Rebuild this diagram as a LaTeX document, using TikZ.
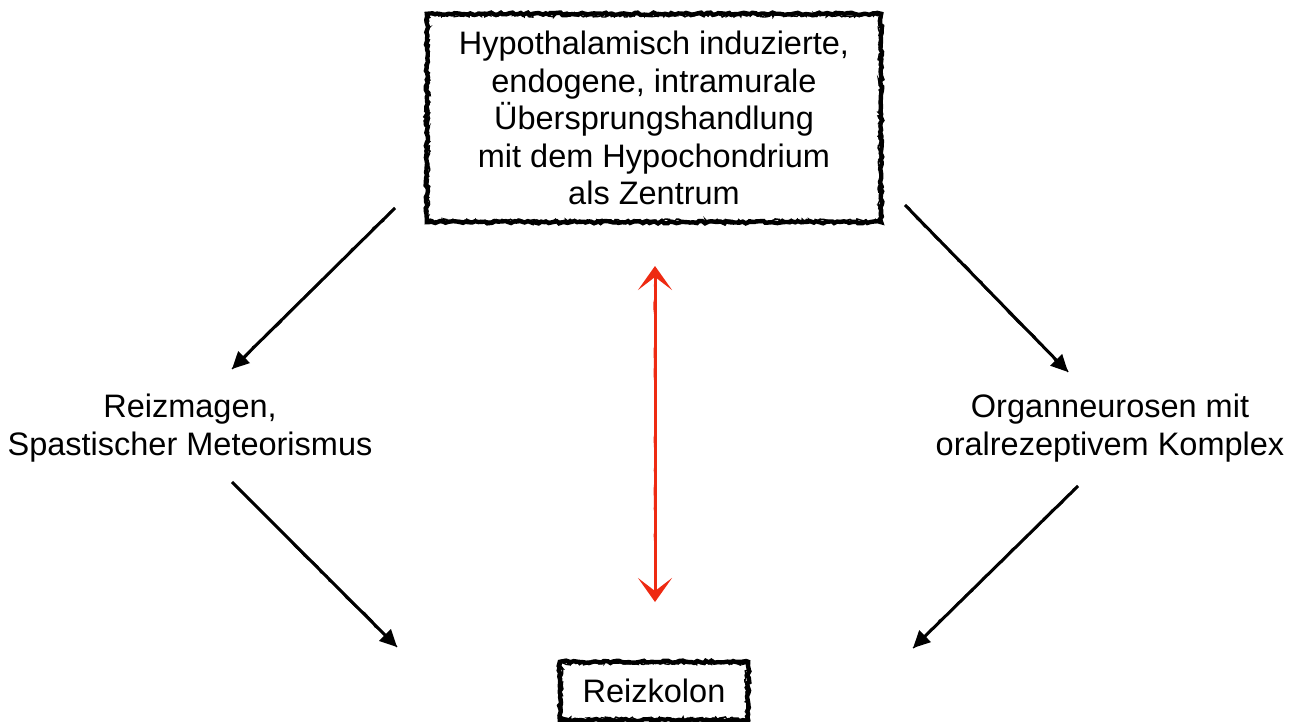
\documentclass[tikz,border=0pt]{standalone}
\usepackage{fontspec}
\setmainfont{Liberation Sans}
\usetikzlibrary{arrows.meta,decorations.pathmorphing}
\definecolor{sketchred}{RGB}{238,42,18}
\begin{document}
\begin{tikzpicture}[x=1pt,y=-1pt,
  lbl/.style={font=\fontsize{32.5}{37.5}\selectfont, align=center, inner sep=0pt},
  roughbox/.style={draw, line width=4.4pt, decorate, decoration={random steps,segment length=3pt,amplitude=1.2pt}},
  roughthin/.style={draw, line width=1.4pt, decorate, decoration={random steps,segment length=2pt,amplitude=1.8pt}},
  blackarrow/.style={line width=3pt, -{Triangle[length=17pt,width=16pt]}},
  sketchline/.style={line width=1.2pt, decorate, decoration={random steps,segment length=6pt,amplitude=1.4pt}},
  redarrow/.style={sketchred, line width=3pt, {Stealth[length=24pt,width=34pt,inset=13pt]}-{Stealth[length=24pt,width=34pt,inset=13pt]}},
  redsketch/.style={sketchred, line width=1.2pt, decorate, decoration={random steps,segment length=8pt,amplitude=1pt}}
]
\pgfmathsetseed{7}
\useasboundingbox (0,0) rectangle (1300,722);
\fill[white] (0,0) rectangle (1300,722);

% nodes
\node[lbl, minimum width=454pt, minimum height=208pt] (top) at (654,118)
  {Hypothalamisch induzierte,\\endogene, intramurale\\Übersprungshandlung\\mit dem Hypochondrium\\als Zentrum};
\node[lbl, minimum width=188pt, minimum height=58pt] (bot) at (654,691) {Reizkolon};
\node[lbl] (left) at (190,428) {Reizmagen,\\Spastischer Meteorismus};
\node[lbl] (right) at (1110,428) {Organneurosen mit\\oralrezeptivem Komplex};

% rough box borders
\draw[roughbox] (top.north west) rectangle (top.south east);
\draw[roughthin] ([shift={(1.5pt,-1.5pt)}]top.north west) rectangle ([shift={(-1.5pt,1.5pt)}]top.south east);
\draw[roughbox] (bot.north west) rectangle (bot.south east);
\draw[roughthin] ([shift={(1.5pt,-1.5pt)}]bot.north west) rectangle ([shift={(-1.5pt,1.5pt)}]bot.south east);

% arrow endpoints
\coordinate (a1s) at (395,208);  \coordinate (a1e) at (232,369);
\coordinate (a2s) at (905,205);  \coordinate (a2e) at (1068,372);
\coordinate (a3s) at (232,482);  \coordinate (a3e) at (397,647);
\coordinate (a4s) at (1078,486); \coordinate (a4e) at (913,648);
\coordinate (rs) at (655,266);   \coordinate (re) at (655,602);

% black arrows
\foreach \s/\e in {a1s/a1e, a2s/a2e, a3s/a3e, a4s/a4e}{
  \draw[blackarrow] (\s) -- (\e);
  \draw[sketchline] (\s) -- (\e);
}

% red double arrow
\draw[redarrow] (rs) -- (re);
\draw[redsketch] ([yshift=-12pt]rs) -- ([yshift=12pt]re);
\end{tikzpicture}
\end{document}
